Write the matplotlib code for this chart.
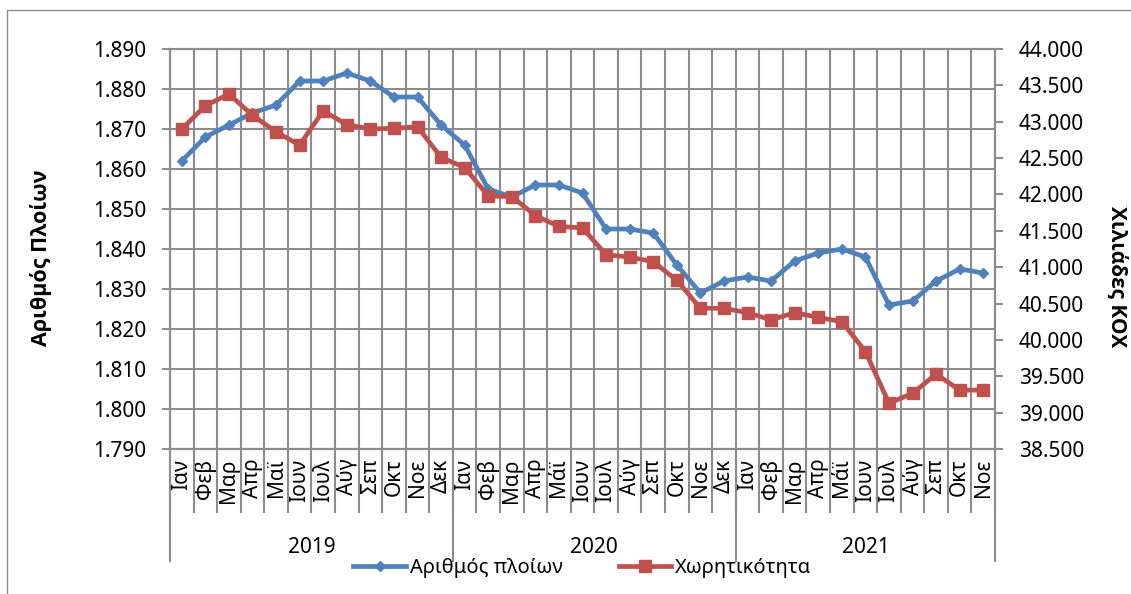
import numpy as np
import matplotlib
matplotlib.use("Agg")
import matplotlib.pyplot as plt
from matplotlib.lines import Line2D
from matplotlib.ticker import FuncFormatter, MultipleLocator

plt.rcParams['font.family'] = ['Noto Sans', 'DejaVu Sans']

# data
years = ["2019", "2020", "2021"]
months_2019 = ["Ιαν", "Φεβ", "Μαρ", "Απρ", "Μαϊ", "Ιουν", "Ιουλ", "Αύγ", "Σεπ", "Οκτ", "Νοε", "Δεκ"]
months_2020 = ["Ιαν", "Φεβ", "Μαρ", "Απρ", "Μάϊ", "Ιουν", "Ιουλ", "Αύγ", "Σεπ", "Οκτ", "Νοε", "Δεκ"]
months_2021 = ["Ιαν", "Φεβ", "Μαρ", "Απρ", "Μάϊ", "Ιουν", "Ιουλ", "Αύγ", "Σεπ", "Οκτ", "Νοε"]

ships = [1862, 1868, 1871, 1874, 1876, 1882, 1882, 1884, 1882, 1878, 1878, 1871,
         1866, 1855, 1853, 1856, 1856, 1854, 1845, 1845, 1844, 1836, 1829, 1832,
         1833, 1832, 1837, 1839, 1840, 1838, 1826, 1827, 1832, 1835, 1834]
capacity = [42900, 43220, 43380, 43090, 42860, 42680, 43150, 42960, 42900, 42910, 42930, 42510,
            42370, 41980, 41970, 41710, 41560, 41540, 41170, 41140, 41075, 40820, 40435, 40435,
            40375, 40275, 40375, 40310, 40250, 39840, 39130, 39265, 39530, 39310, 39310]

labels = months_2019 + months_2020 + months_2021
year_sizes = [len(months_2019), len(months_2020), len(months_2021)]
n = len(labels)
x = np.arange(n) + 0.5

blue = "#4F81BD"
red = "#C0504D"
grid_c = "#8C8C8C"

fig = plt.figure(figsize=(11.31, 5.94), dpi=100)
ax = fig.add_axes([0.1503, 0.2441, 0.7295, 0.6734])
ax2 = ax.twinx()

# gridlines
ax.set_xlim(0, n)
ax.set_ylim(1790, 1890)
ax.yaxis.set_major_locator(MultipleLocator(10))
ax.grid(axis="y", color=grid_c, lw=1.5)
ax.vlines(np.arange(n + 1), 0, 1, transform=ax.get_xaxis_transform(), color=grid_c, lw=1.5, zorder=0.5)
ax.set_axisbelow(True)

ax.plot(x, ships, color=blue, lw=3.4, marker="D", ms=5, zorder=3)
ax2.plot(x, capacity, color=red, lw=3.4, marker="s", ms=8, zorder=3)

ax2.set_ylim(38500, 44000)
ax2.yaxis.set_major_locator(MultipleLocator(500))

fmt = FuncFormatter(lambda v, p: f"{v:,.0f}".replace(",", "."))
ax.yaxis.set_major_formatter(fmt)
ax2.yaxis.set_major_formatter(fmt)

for a in (ax, ax2):
    for s in a.spines.values():
        s.set_color(grid_c)
        s.set_linewidth(1.5)
ax.tick_params(axis="y", length=6, width=1.5, color=grid_c, labelsize=15, pad=11)
ax2.tick_params(axis="y", length=6, width=1.5, color=grid_c, labelsize=15, pad=11)

# month labels
ax.set_xticks(x)
ax.set_xticklabels(labels, rotation=90, fontsize=15, va="top")
ax.tick_params(axis="x", length=0, pad=7)

# separators below axis
tr = ax.get_xaxis_transform()
ax.vlines(np.arange(n + 1), -0.16, 0, transform=tr, color=grid_c, lw=1.5, clip_on=False)
bounds = np.concatenate([[0], np.cumsum(year_sizes)])
ax.vlines(bounds, -0.283, 0, transform=tr, color=grid_c, lw=1.5, clip_on=False)
for i, yr in enumerate(years):
    ax.text((bounds[i] + bounds[i + 1]) / 2, -0.245, yr, transform=tr,
            ha="center", va="center", fontsize=15)

bold_family = ['Open Sans', 'DejaVu Sans']
fig.text(0.036, 0.566, "Αριθμός Πλοίων", rotation=90, ha="center", va="center",
         fontsize=15.5, fontweight="bold", family=bold_family)
fig.text(0.987, 0.535, "Χιλιάδες ΚΟΧ", rotation=-90, ha="center", va="center",
         fontsize=15, fontweight="bold", family=bold_family)

handles = [Line2D([], [], color=blue, lw=3.4, marker="D", ms=5),
           Line2D([], [], color=red, lw=3.4, marker="s", ms=8)]
fig.legend(handles, ["Αριθμός πλοίων", "Χωρητικότητα"], loc="center",
           bbox_to_anchor=(0.515, 0.044), ncol=2, frameon=False, fontsize=14.5,
           handlelength=2.6, handletextpad=0.2, columnspacing=2.8)

# outer chart border
fig.add_artist(Line2D([0.0062, 0.0062, 1.0], [0.0, 0.983, 0.983], transform=fig.transFigure,
                      color=grid_c, lw=1))

fig.savefig("out.png", dpi=100)
